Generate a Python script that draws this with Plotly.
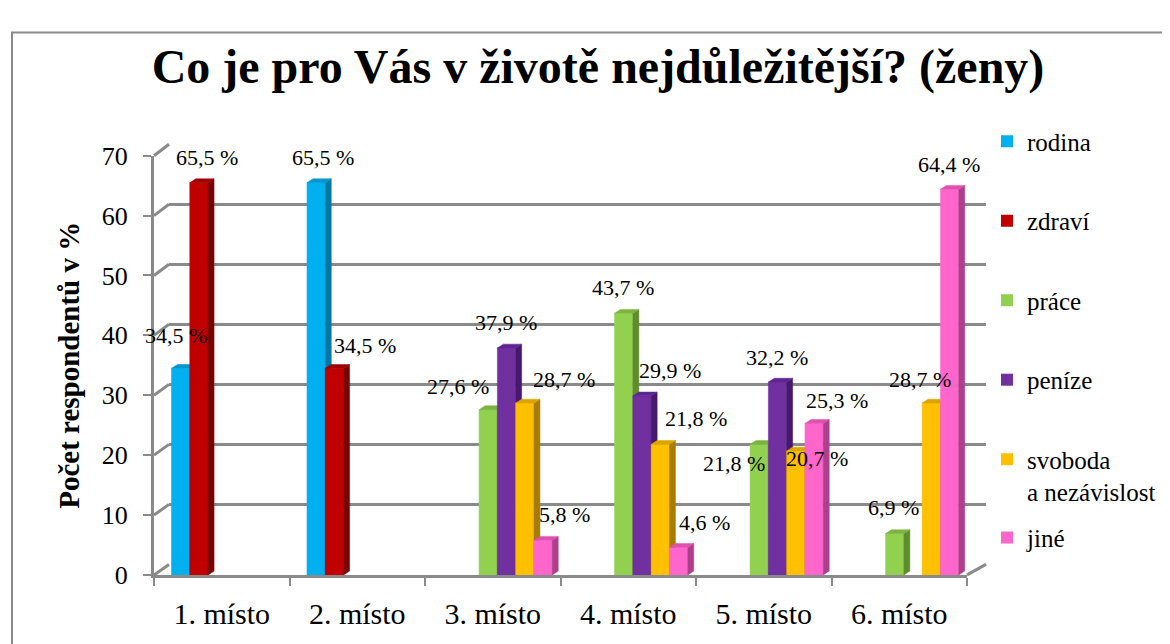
import plotly.graph_objects as go

# data
categories = ['1. místo', '2. místo', '3. místo', '4. místo', '5. místo', '6. místo']
series_names = ['rodina', 'zdraví', 'práce', 'peníze', 'svoboda<br>a nezávislost', 'jiné']
rodina = [34.5, 65.5, 0, 0, 0, 0]
zdravi = [65.5, 34.5, 0, 0, 0, 0]
prace = [0, 0, 27.6, 43.7, 21.8, 6.9]
penize = [0, 0, 37.9, 29.9, 32.2, 0]
svoboda = [0, 0, 28.7, 21.8, 20.7, 28.7]
jine = [0, 0, 5.8, 4.6, 25.3, 64.4]
y_ticks = [0, 10, 20, 30, 40, 50, 60, 70]

series_values = [rodina, zdravi, prace, penize, svoboda, jine]

# colours: front face, top face, side face
front_colors = ['#00B0F0', '#C00000', '#92D050', '#7030A0', '#FFC000', '#FF66CC']
top_colors = ['#0096CF', '#A00000', '#7AB33E', '#5C2590', '#DDA400', '#E050AE']
side_colors = ['#0078A6', '#780000', '#5E8D2C', '#46196C', '#A77C00', '#AE3F8A']

# label nudges in px (right, up) where Excel moved labels around
label_shift = {
    (0, 0): (-5, 33), (0, 1): (7, 25),
    (1, 0): (8, 25), (1, 1): (31, 23),
    (2, 2): (-30, 23), (2, 3): (-1, 26), (2, 4): (-25, -19), (2, 5): (-1, 26),
    (3, 2): (-1, 25), (3, 3): (28, 25), (3, 4): (-1, 25),
    (4, 2): (39, 24), (4, 3): (36, 26), (4, 4): (21, -8), (4, 5): (-11, 24),
    (5, 2): (21, 26), (5, 3): (26, 25), (5, 4): (23, 23), (5, 5): (-1, 25),
}

# page geometry (px)
W, H = 1170, 644
FX0, FX1, FY0, FY1 = 146, 959, 579, 140   # front plane
BX0, BX1, BY0, BY1 = 161, 978, 568, 128   # back wall
FONT = 'Liberation Serif'
GREY = '#8a8a8a'

n_cat = len(categories)
ymax = y_ticks[-1]
bar_w = 0.135
group_start = -0.371
depth_x = 6 / ((FX1 - FX0) / n_cat)
depth_y = 4 / ((FY0 - FY1) / ymax)

fig = go.Figure()

# back wall subplot needs a trace to be drawn
fig.add_trace(go.Scatter(x=[None], y=[None], xaxis='x', yaxis='y', showlegend=False, hoverinfo='skip'))

# legend entries (square icons); the last one lives in its own legend box
for i, name in enumerate(series_names):
    fig.add_trace(go.Bar(x=[None], y=[None], name=name, legendgroup=name,
                         legend='legend2' if i == len(series_names) - 1 else 'legend',
                         marker=dict(color=front_colors[i], line=dict(width=0)),
                         xaxis='x2', yaxis='y2'))

# 3d-looking bars: front, side and top faces
for i, vals in enumerate(series_values):
    fx, fy, sx, sy, tx, ty = [], [], [], [], [], []
    for k, v in enumerate(vals):
        if not v:
            continue
        xl = k + group_start + i * bar_w
        xr = xl + bar_w
        fx += [xl, xr, xr, xl, xl, None]
        fy += [0, 0, v, v, 0, None]
        sx += [xr, xr + depth_x, xr + depth_x, xr, xr, None]
        sy += [0, depth_y, v + depth_y, v, 0, None]
        tx += [xl, xl + depth_x, xr + depth_x, xr, xl, None]
        ty += [v, v + depth_y, v + depth_y, v, v, None]
    for xs, ys, col in [(fx, fy, front_colors[i]), (sx, sy, side_colors[i]), (tx, ty, top_colors[i])]:
        fig.add_trace(go.Scatter(x=xs, y=ys, fill='toself', fillcolor=col, mode='lines',
                                 line=dict(width=0.5, color=col), showlegend=False,
                                 hoverinfo='skip', xaxis='x2', yaxis='y2'))

# data labels
annotations = []
for i, vals in enumerate(series_values):
    for k, v in enumerate(vals):
        if not v:
            continue
        dx, dy = label_shift.get((i, k), (-1, 25))
        annotations.append(dict(x=k + group_start + (i + 0.5) * bar_w, y=v, xref='x2', yref='y2',
                                text='{:.1f} %'.format(v).replace('.', ','), showarrow=False,
                                xshift=dx, yshift=dy, font=dict(family=FONT, size=22, color='black')))

# side wall and floor diagonals
def px(x, y):
    return x / W, 1 - y / H

shapes = [dict(type='rect', xref='paper', yref='paper', x0=4 / W, y0=1 - 11 / H, x1=1.02, y1=-0.05,
               line=dict(color=GREY, width=2), layer='below')]
for t in y_ticks:
    yf = FY0 - (FY0 - FY1) * t / ymax
    yb = BY0 - (BY0 - BY1) * t / ymax
    x0, y0 = px(FX0, yf)
    x1, y1 = px(BX0, yb)
    shapes.append(dict(type='line', xref='paper', yref='paper', x0=x0, y0=y0, x1=x1, y1=y1,
                       line=dict(color=GREY, width=3), layer='below'))
x0, y0 = px(FX1, FY0)
x1, y1 = px(BX1, BY0)
shapes.append(dict(type='line', xref='paper', yref='paper', x0=x0, y0=y0, x1=x1, y1=y1,
                   line=dict(color=GREY, width=3), layer='below'))

legend_style = dict(xanchor='left', yanchor='top', valign='top', bgcolor='rgba(0,0,0,0)',
                    font=dict(family=FONT, size=25, color='black'))

fig.update_layout(
    width=W, height=H,
    margin=dict(l=0, r=0, t=0, b=0),
    paper_bgcolor='white',
    plot_bgcolor='rgba(0,0,0,0)',
    barmode='overlay',
    font=dict(family=FONT, color='black'),
    title=dict(text='Co je pro Vás v životě nejdůležitější? (ženy)', x=590 / W, xanchor='center',
               y=1 - 58 / H, yanchor='middle',
               font=dict(family=FONT, size=48, weight='bold', color='black')),
    # back wall gridlines
    xaxis=dict(domain=[BX0 / W, BX1 / W], anchor='y', range=[0, 1], visible=False),
    yaxis=dict(domain=[1 - BY0 / H, 1 - BY1 / H], anchor='x', range=[0, ymax], tickvals=y_ticks,
               showgrid=True, gridcolor=GREY, gridwidth=3, showticklabels=False, ticks='',
               zeroline=False, showline=False),
    # front axes
    xaxis2=dict(domain=[FX0 / W, FX1 / W], anchor='y2', range=[-0.5, n_cat - 0.5],
                tickvals=list(range(n_cat)), ticktext=categories, ticks='', showgrid=False,
                zeroline=False, showline=True, linecolor=GREY, linewidth=3,
                ticklabelstandoff=10, tickfont=dict(family=FONT, size=30, color='black'),
                minor=dict(tickmode='array', tickvals=[k - 0.5 for k in range(n_cat + 1)],
                           ticks='outside', ticklen=8, tickwidth=2, tickcolor=GREY)),
    yaxis2=dict(domain=[1 - FY0 / H, 1 - FY1 / H], anchor='x2', range=[0, ymax], tickvals=y_ticks,
                ticks='outside', ticklen=8, tickwidth=2, tickcolor=GREY, showgrid=False,
                zeroline=False, showline=True, linecolor=GREY, linewidth=3,
                ticklabelstandoff=10, tickfont=dict(family=FONT, size=26, color='black'),
                title=dict(text='Počet respondentů v %', standoff=14,
                           font=dict(family=FONT, size=29, weight='bold', color='black'))),
    legend=dict(x=979 / W, y=1 - 101 / H, tracegroupgap=44, **legend_style),
    legend2=dict(x=979 / W, y=1 - 516 / H, **legend_style),
    annotations=annotations,
    shapes=shapes,
)

fig.write_html('out.html')
